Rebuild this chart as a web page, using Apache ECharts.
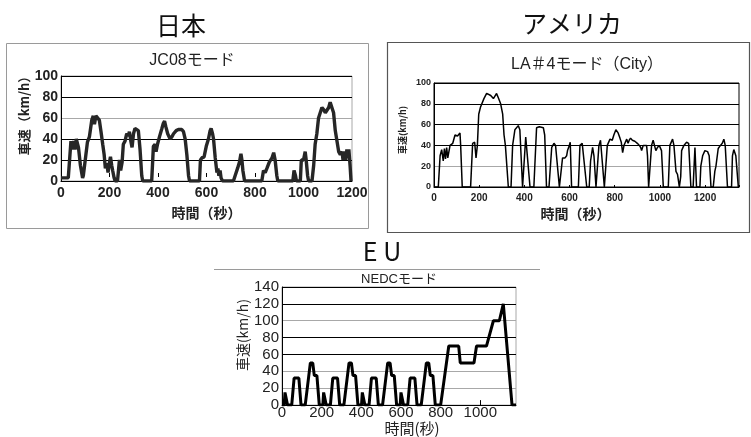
<!DOCTYPE html>
<html>
<head>
<meta charset="utf-8">
<script src="https://cdn.jsdelivr.net/npm/echarts@6/dist/echarts.min.js"></script>
<style>
  html, body { margin: 0; padding: 0; background: #fff; }
  #chart { width: 751px; height: 437px; }
</style>
</head>
<body>
<div id="chart"></div>
<script>
// JC08 mode (Japan): time [s] and speed [km/h]
const jc08Time = [0, 30, 41, 47, 52, 58, 63, 72, 80, 89, 92, 109, 117, 127, 133, 138, 144, 150, 158, 165, 172, 178, 183, 189, 194, 200, 204, 209, 213, 219, 223, 233, 241, 246, 252, 257, 264, 271, 278, 282, 288, 293, 299, 305, 312, 319, 326, 333, 337, 374, 381, 388, 392, 398, 406, 416, 422, 427, 432, 440, 450, 457, 464, 475, 484, 498, 505, 512, 519, 526, 530, 571, 575, 581, 590, 599, 608, 615, 619, 625, 629, 636, 643, 647, 651, 656, 660, 666, 711, 718, 728, 736, 742, 746, 750, 757, 828, 835, 842, 849, 859, 870, 877, 883, 890, 894, 956, 961, 967, 971, 987, 991, 1000, 1007, 1011, 1017, 1021, 1035, 1042, 1048, 1055, 1062, 1069, 1076, 1083, 1090, 1097, 1104, 1110, 1117, 1124, 1131, 1138, 1145, 1152, 1159, 1163, 1168, 1174, 1179, 1183, 1187, 1192, 1196];
const jc08Speed = [3, 3, 38, 30, 38, 30, 40, 32, 15, 3, 5, 37, 42, 58, 62, 54, 62, 62, 58, 47, 35, 25, 12, 17, 8, 18, 23, 15, 10, 3, 0, 0, 20, 10, 18, 35, 38, 45, 43, 47, 38, 32, 45, 50, 50, 48, 30, 5, 0, 0, 33, 35, 28, 35, 42, 50, 55, 57, 52, 45, 40, 42, 45, 48, 49, 49, 47, 40, 25, 5, 0, 0, 20, 22, 23, 33, 40, 48, 50, 45, 40, 22, 8, 12, 5, 10, 3, 0, 0, 5, 12, 18, 26, 20, 10, 0, 0, 10, 8, 12, 18, 22, 27, 20, 5, 0, 0, 10, 5, 0, 0, 20, 20, 28, 20, 5, 0, 0, 15, 35, 45, 60, 65, 70, 68, 65, 66, 70, 75, 74, 65, 48, 38, 28, 25, 28, 20, 28, 20, 30, 22, 30, 15, 0];

// LA#4 mode (USA, City)
const la4Time = [0, 19, 27, 34, 41, 46, 51, 56, 61, 71, 83, 93, 104, 115, 118, 125, 162, 171, 180, 186, 192, 198, 206, 212, 221, 233, 240, 251, 263, 270, 277, 286, 295, 304, 310, 316, 329, 341, 348, 358, 373, 380, 392, 395, 406, 413, 425, 442, 454, 466, 484, 490, 498, 509, 521, 531, 538, 555, 562, 569, 580, 587, 591, 599, 603, 609, 639, 646, 656, 664, 676, 687, 693, 702, 708, 717, 723, 730, 737, 745, 754, 760, 767, 779, 789, 796, 805, 815, 823, 829, 835, 841, 845, 853, 859, 864, 870, 878, 889, 900, 909, 915, 919, 926, 941, 945, 950, 956, 963, 970, 982, 989, 997, 1007, 1015, 1037, 1044, 1056, 1062, 1071, 1078, 1086, 1092, 1096, 1106, 1118, 1127, 1137, 1147, 1155, 1162, 1177, 1181, 1189, 1199, 1211, 1218, 1226, 1236, 1243, 1248, 1258, 1268, 1276, 1283, 1289, 1299, 1317, 1321, 1327, 1336, 1347, 1350];
const la4Speed = [0, 0, 30, 36, 25, 37, 27, 38, 28, 40, 42, 50, 49, 52, 40, 0, 0, 42, 43, 28, 40, 70, 77, 76, 85, 90, 91, 88, 85, 84, 90, 85, 80, 70, 50, 40, 0, 0, 40, 55, 59, 55, 0, 0, 48, 47, 0, 0, 57, 58, 57, 50, 0, 0, 38, 42, 40, 0, 0, 28, 28, 30, 35, 40, 43, 0, 0, 40, 42, 41, 0, 0, 25, 38, 30, 0, 0, 40, 45, 44, 0, 0, 40, 46, 45, 50, 55, 52, 47, 43, 33, 40, 42, 46, 42, 45, 47, 45, 44, 42, 40, 38, 35, 40, 40, 30, 0, 0, 40, 45, 35, 38, 40, 35, 0, 0, 40, 46, 40, 15, 12, 0, 10, 35, 40, 43, 42, 0, 0, 38, 0, 0, 20, 30, 35, 34, 30, 0, 0, 15, 20, 37, 40, 42, 46, 40, 0, 0, 30, 36, 30, 0, 0];

// NEDC mode (EU): four urban cycles followed by the extra-urban cycle
const nedcTime = [0, 11, 15, 23, 28, 49, 61, 85, 96, 117, 143, 155, 163, 176, 188,
  195, 206, 210, 218, 223, 244, 256, 280, 291, 312, 338, 350, 358, 371, 383,
  390, 401, 405, 413, 418, 439, 451, 475, 486, 507, 533, 545, 553, 566, 578,
  585, 596, 600, 608, 613, 634, 646, 670, 681, 702, 728, 740, 748, 761, 773,
  780, 800, 841, 891, 899, 968, 981, 1031, 1066, 1096, 1116, 1126, 1160, 1180];
const nedcSpeed = [0, 0, 15, 15, 0, 0, 32, 32, 0, 0, 50, 50, 35, 35, 0,
  0, 0, 15, 15, 0, 0, 32, 32, 0, 0, 50, 50, 35, 35, 0,
  0, 0, 15, 15, 0, 0, 32, 32, 0, 0, 50, 50, 35, 35, 0,
  0, 0, 15, 15, 0, 0, 32, 32, 0, 0, 50, 50, 35, 35, 0,
  0, 0, 70, 70, 50, 50, 70, 70, 100, 100, 120, 120, 0, 0];

// Axis tick labels
const jc08XTicks = [0, 200, 400, 600, 800, 1000, 1200];
const la4XTicks = [0, 200, 400, 600, 800, 1000, 1200];
const nedcXTicks = [0, 200, 400, 600, 800, 1000];

const pairs = (t, v) => t.map((x, i) => [x, v[i]]);
const onlyTicks = list => v => (list.indexOf(v) >= 0 ? String(v) : '');

const FONT = '"Liberation Sans", "Noto Sans CJK JP", sans-serif';
const CJK = '"Noto Sans CJK JP", sans-serif';
const TXT = '#222';
const GRAY = '#a8a8a8';

function valueAxisY(gridIndex, max, interval, size, weight, name, nameSize, nameGap, shiftUp, colors) {
  return {
    type: 'value', gridIndex, min: 0, max, interval,
    name, nameLocation: 'middle', nameRotate: 90, nameGap,
    nameTextStyle: { fontFamily: CJK, fontSize: nameSize, color: TXT, fontWeight: weight, padding: [0, 0, 0, shiftUp * 2] },
    axisLine: { show: true, lineStyle: { color: '#000', width: 1 } },
    axisTick: { show: false },
    axisLabel: { fontFamily: FONT, fontSize: size, color: TXT, fontWeight: weight, margin: 3, formatter: v => String(v) },
    splitLine: { show: true, lineStyle: { color: colors, width: 1 } }
  };
}

const chart = echarts.init(document.getElementById('chart'), null, { renderer: 'canvas' });

chart.setOption({
  animation: false,
  backgroundColor: '#fff',
  grid: [
    { left: 61, top: 76, width: 291, height: 105, show: true, borderColor: GRAY, borderWidth: 1 },
    { left: 434, top: 83, width: 305, height: 104, show: true, borderColor: '#000', borderWidth: 1 },
    { left: 282, top: 287, width: 234, height: 121, show: true, borderColor: GRAY, borderWidth: 1 }
  ],
  xAxis: [
    {
      type: 'value', gridIndex: 0, min: 0, max: 1200, interval: 200,
      name: '時間（秒）', nameLocation: 'middle', nameGap: 25,
      nameTextStyle: { fontFamily: CJK, fontSize: 14, color: TXT, fontWeight: 'bold' },
      axisLine: { lineStyle: { color: '#000' } }, axisTick: { show: false },
      axisLabel: { fontFamily: FONT, fontSize: 14, color: TXT, fontWeight: 'bold', margin: 5, formatter: onlyTicks(jc08XTicks) },
      splitLine: { show: false }
    },
    {
      type: 'value', gridIndex: 1, min: 0, max: 1350, interval: 200,
      name: '時間（秒）', nameLocation: 'middle', nameGap: 20,
      nameTextStyle: { fontFamily: CJK, fontSize: 14, color: TXT, fontWeight: 'bold', padding: [0, 22, 0, 0] },
      axisLine: { lineStyle: { color: '#000' } },
      axisTick: { show: true, inside: true, length: 2, lineStyle: { color: '#000' } },
      axisLabel: { fontFamily: FONT, fontSize: 10, color: TXT, fontWeight: 'bold', margin: 6, formatter: onlyTicks(la4XTicks) },
      splitLine: { show: false }
    },
    {
      type: 'value', gridIndex: 2, min: 0, max: 1180, interval: 200,
      name: '時間(秒)', nameLocation: 'middle', nameGap: 9,
      nameTextStyle: { fontFamily: CJK, fontSize: 15, color: TXT, padding: [0, 0, 0, 26] },
      axisLine: { lineStyle: { color: '#000' } },
      axisTick: { show: true, inside: true, length: 5, customValues: [1000], lineStyle: { color: '#000' } },
      axisLabel: { fontFamily: FONT, fontSize: 15, color: TXT, margin: 0, formatter: onlyTicks(nedcXTicks) },
      splitLine: { show: false }
    },
    {
      // short inside tick marks above the JC08 baseline
      type: 'value', gridIndex: 0, min: 0, max: 1200, interval: 200, position: 'bottom', offset: -4,
      axisLine: { show: false },
      axisTick: { show: true, inside: true, length: 4, customValues: [200, 400, 600, 800], lineStyle: { color: '#000' } },
      axisLabel: { show: false }, splitLine: { show: false }
    }
  ],
  yAxis: [
    valueAxisY(0, 100, 20, 14, 'bold', '車速（km/h）', 13, 27, 16,
      ['#000', '#000', '#000', GRAY, '#000', '#000']),
    valueAxisY(1, 100, 20, 9, 'bold', '車速(km/h)', 9, 27, 5,
      ['#000', GRAY, '#000', '#000', '#000', '#000']),
    valueAxisY(2, 140, 20, 15, 'normal', '車速(km/h)', 14, 26, 11,
      ['#000', GRAY, GRAY, '#000', '#000', GRAY, '#000', '#000'])
  ],
  series: [
    {
      type: 'line', name: 'JC08', xAxisIndex: 0, yAxisIndex: 0, data: pairs(jc08Time, jc08Speed),
      showSymbol: false, lineStyle: { color: '#262626', width: 3.4 }, z: 3
    },
    {
      type: 'line', name: 'LA#4', xAxisIndex: 1, yAxisIndex: 1, data: pairs(la4Time, la4Speed),
      showSymbol: false, lineStyle: { color: '#000', width: 1.5 }, z: 3
    },
    {
      type: 'line', name: 'NEDC', xAxisIndex: 2, yAxisIndex: 2, data: pairs(nedcTime, nedcSpeed),
      showSymbol: false, lineStyle: { color: '#000', width: 3 }, z: 3
    }
  ],
  graphic: [
    // panel frames
    { type: 'rect', shape: { x: 6.5, y: 43.5, width: 362, height: 185 }, style: { fill: 'none', stroke: '#9a9a9a', lineWidth: 1 }, silent: true, z: -1 },
    { type: 'rect', shape: { x: 387.5, y: 42.5, width: 362, height: 190 }, style: { fill: 'none', stroke: '#555', lineWidth: 1.2 }, silent: true, z: -1 },
    { type: 'line', shape: { x1: 214, y1: 269.5, x2: 540, y2: 269.5 }, style: { stroke: '#9a9a9a', lineWidth: 1 }, silent: true, z: -1 },
    // region headings
    { type: 'text', x: 181, y: 25, style: { text: '日本', font: '25px ' + CJK, fill: '#111', align: 'center', verticalAlign: 'middle' } },
    { type: 'text', x: 572, y: 23, style: { text: 'アメリカ', font: '25px ' + CJK, fill: '#111', align: 'center', verticalAlign: 'middle' } },
    { type: 'text', x: 382, y: 251, style: { text: 'E U', font: '25px ' + CJK, fill: '#111', align: 'center', verticalAlign: 'middle' } },
    // chart titles
    { type: 'text', x: 192, y: 61, style: { text: 'JC08モード', font: '16px ' + FONT, fill: TXT, align: 'center', verticalAlign: 'middle' } },
    { type: 'text', x: 587, y: 65, style: { text: 'LA＃4モード（City）', font: '16px ' + FONT, fill: TXT, align: 'center', verticalAlign: 'middle' } },
    { type: 'text', x: 399, y: 279, style: { text: 'NEDCモード', font: '13px ' + FONT, fill: TXT, align: 'center', verticalAlign: 'middle' } }
  ]
});
</script>
</body>
</html>
